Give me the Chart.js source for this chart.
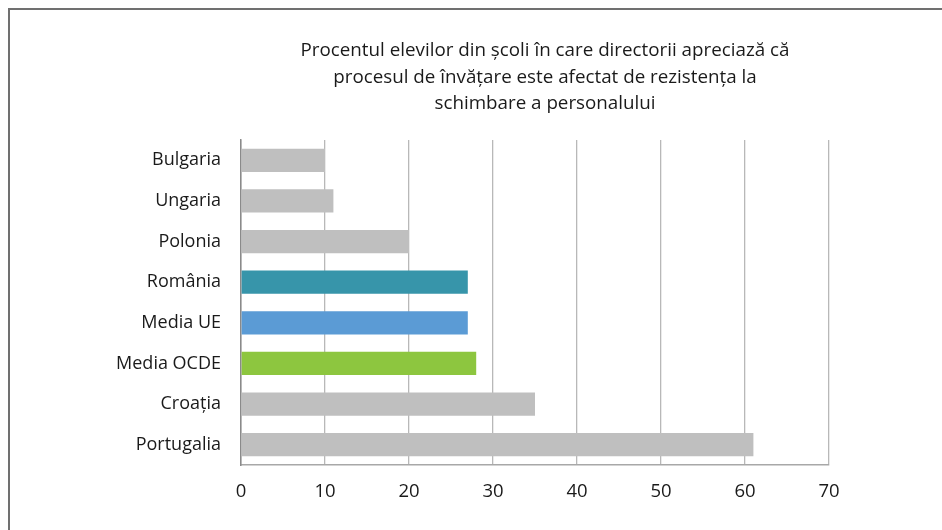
<!DOCTYPE html>
<html>
<head>
<meta charset="utf-8">
<script src="https://cdn.jsdelivr.net/npm/chart.js@4.4.0/dist/chart.umd.min.js"></script>
<style>
  html, body { margin: 0; padding: 0; background: #fff; }
  #wrap { position: relative; width: 942px; height: 530px; overflow: hidden; }
  #frame { position: absolute; left: 8px; top: 8px; width: 960px; height: 560px;
           border-top: 2px solid #707070; border-left: 2px solid #707070; box-sizing: border-box; }
  canvas { position: absolute; left: 0; top: 0; }
</style>
</head>
<body>
<div id="wrap">
  <div id="frame"></div>
  <canvas id="c" width="942" height="530"></canvas>
</div>
<script>
const categories = ["Bulgaria", "Ungaria", "Polonia", "România", "Media UE", "Media OCDE", "Croația", "Portugalia"];
const values = [10, 11, 20, 27, 27, 28, 35, 61];
const barColors = ["#bfbfbf", "#bfbfbf", "#bfbfbf", "#3795aa", "#5b9bd5", "#8dc63f", "#bfbfbf", "#bfbfbf"];
const titleLines = [
  "Procentul elevilor din școli în care directorii apreciază că",
  "procesul de învățare este afectat de rezistența la",
  "schimbare a personalului"
];
const xMin = 0, xMax = 70, xStep = 10;

const FONT = "'Open Sans', sans-serif";

const titlePlugin = {
  id: 'titleLines',
  afterDraw(chart) {
    const ctx = chart.ctx;
    const ca = chart.chartArea;
    const cx = (ca.left + ca.right) / 2 + 10;
    ctx.save();
    ctx.font = "18.8px " + FONT;
    ctx.fillStyle = "#1a1a1a";
    ctx.textAlign = "center";
    ctx.textBaseline = "middle";
    titleLines.forEach((t, i) => ctx.fillText(t, cx, 51 + i * 26.5));
    ctx.restore();
  }
};

new Chart(document.getElementById('c'), {
  type: 'bar',
  data: {
    labels: categories,
    datasets: [{
      data: values,
      backgroundColor: barColors,
      borderWidth: 0,
      categoryPercentage: 1.0,
      barPercentage: 0.57
    }]
  },
  options: {
    indexAxis: 'y',
    responsive: false,
    animation: false,
    devicePixelRatio: 1,
    layout: { padding: { left: 0, top: 140, right: 113, bottom: 0 } },
    plugins: { legend: { display: false }, tooltip: { enabled: false }, title: { display: false } },
    scales: {
      x: {
        min: xMin, max: xMax,
        ticks: { stepSize: xStep, color: "#1a1a1a", font: { family: FONT, size: 18.5 }, padding: 16 },
        grid: { color: "#b8b8b8", lineWidth: 1.3, drawTicks: false },
        border: { display: true, color: "#a8a8a8", width: 1.5 },
        afterFit(s) { s.height = 65; }
      },
      y: {
        ticks: { color: "#1a1a1a", font: { family: FONT, size: 18 }, padding: 20 },
        grid: { display: false, drawTicks: false },
        border: { display: true, color: "#8a8a8a", width: 1.5 },
        afterFit(s) { s.width = 241; }
      }
    }
  },
  plugins: [titlePlugin]
});
</script>
</body>
</html>
